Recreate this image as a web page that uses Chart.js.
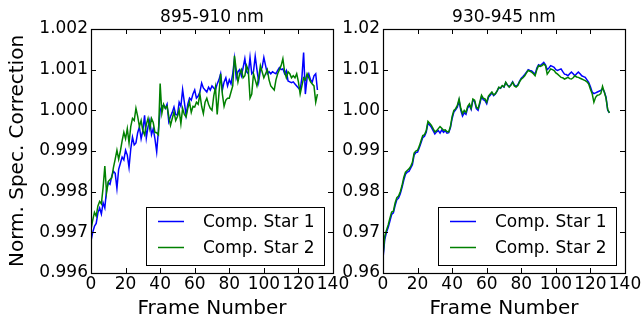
<!DOCTYPE html>
<html>
<head>
<meta charset="utf-8">
<script src="https://cdn.jsdelivr.net/npm/chart.js@4.4.0/dist/chart.umd.min.js"></script>
<style>
html,body{margin:0;padding:0;background:#fff;}
#wrap{position:relative;width:644px;height:324px;}
canvas{position:absolute;left:0;top:0;}
</style>
</head>
<body>
<div id="wrap">
<canvas id="c1" width="644" height="324"></canvas>
<canvas id="c2" width="644" height="324"></canvas>
</div>
<script>
// ---------------- DATA ----------------
const panelTitles = ['895-910 nm', '930-945 nm'];
const seriesNames = ['Comp. Star 1', 'Comp. Star 2'];
const xTickValues = [0, 20, 40, 60, 80, 100, 120, 140];
const leftYTickValues = [0.996, 0.997, 0.998, 0.999, 1.000, 1.001, 1.002];
const leftYTickLabels = ['0.996', '0.997', '0.998', '0.999', '1.000', '1.001', '1.002'];
const rightYTickValues = [0.96, 0.97, 0.98, 0.99, 1.00, 1.01, 1.02];
const rightYTickLabels = ['0.96', '0.97', '0.98', '0.99', '1.00', '1.01', '1.02'];

// frame index for each sample (0..131)
const frames = Array.from({length: 132}, (_, i) => i);

// 895-910 nm
const left1 = [
0.99679,0.99700,0.99715,0.99722,0.99748,0.99760,0.99745,0.99773,0.99760,0.99805,
0.99822,0.99818,0.99838,0.99850,0.99845,0.99808,0.99855,0.99870,0.99885,0.99878,
0.99902,0.99890,0.99860,0.99905,0.99934,0.99915,0.99920,0.99945,0.99959,0.99930,
0.99950,0.99988,0.99932,0.99960,0.99976,0.99940,0.99955,0.99930,0.99898,0.99950,
1.00000,1.00010,1.00012,1.00005,1.00015,0.99972,0.99985,0.99995,1.00008,0.99990,
0.99988,1.00020,1.00010,1.00051,1.00020,0.99988,1.00015,1.00030,1.00025,1.00040,
1.00050,1.00030,1.00035,1.00045,1.00067,1.00055,1.00050,1.00045,1.00057,1.00050,
1.00060,1.00055,1.00050,1.00065,1.00075,1.00090,1.00050,1.00070,1.00080,1.00060,
1.00075,1.00065,1.00090,1.00127,1.00080,1.00095,1.00100,1.00085,1.00105,1.00127,
1.00095,1.00090,1.00130,1.00090,1.00095,1.00133,1.00100,1.00070,1.00100,1.00105,
1.00130,1.00110,1.00090,1.00095,1.00090,1.00095,1.00092,1.00090,1.00098,1.00105,
1.00100,1.00102,1.00090,1.00098,1.00072,1.00070,1.00068,1.00070,1.00065,1.00060,
1.00055,1.00050,1.00080,1.00142,1.00040,1.00080,1.00090,1.00075,1.00070,1.00085,
1.00090,1.00050];
const left2 = [
0.99707,0.99730,0.99749,0.99740,0.99765,0.99776,0.99770,0.99810,0.99863,0.99797,
0.99825,0.99830,0.99834,0.99860,0.99880,0.99902,0.99880,0.99900,0.99925,0.99946,
0.99930,0.99955,0.99920,0.99960,0.99980,0.99975,1.00005,0.99985,0.99960,0.99975,
0.99950,0.99940,0.99965,0.99980,0.99955,0.99980,0.99970,0.99946,0.99945,0.99940,
1.00066,0.99993,1.00015,1.00005,1.00010,0.99985,0.99963,0.99980,0.99996,0.99975,
0.99985,1.00000,0.99967,1.00005,0.99990,0.99984,1.00005,1.00020,0.99995,1.00010,
1.00008,1.00020,1.00015,1.00040,1.00010,0.99992,1.00020,1.00030,1.00015,1.00005,
1.00000,1.00035,1.00057,0.99990,1.00040,1.00090,1.00040,1.00010,1.00025,1.00030,
1.00030,1.00045,1.00060,1.00134,1.00100,1.00070,1.00090,1.00100,1.00080,1.00085,
1.00110,1.00098,1.00030,1.00040,1.00090,1.00075,1.00060,1.00080,1.00110,1.00095,
1.00080,1.00090,1.00100,1.00075,1.00060,1.00055,1.00050,1.00075,1.00090,1.00100,
1.00110,1.00127,1.00095,1.00080,1.00095,1.00090,1.00080,1.00085,1.00080,1.00090,
1.00070,1.00040,1.00060,1.00080,1.00075,1.00090,1.00080,1.00070,1.00065,1.00060,
1.00020,1.00040];

// 930-945 nm
const right1 = [
0.9635,0.9682,0.9700,0.9712,0.9728,0.9744,0.9748,0.9766,0.9780,0.9784,
0.9795,0.9810,0.9828,0.9843,0.9848,0.9850,0.9858,0.9866,0.9890,0.9896,
0.9897,0.9908,0.9920,0.9933,0.9936,0.9946,0.9968,0.9964,0.9958,0.9950,
0.9942,0.9947,0.9950,0.9944,0.9952,0.9946,0.9950,0.9944,0.9945,0.9957,
0.9980,0.9996,1.0001,1.0008,1.0024,1.0000,0.9986,0.9994,0.9990,1.0006,
1.0012,1.0002,1.0025,1.0022,1.0004,1.0000,1.0016,1.0034,1.0026,1.0024,
1.0016,1.0032,1.0037,1.0043,1.0036,1.0040,1.0047,1.0056,1.0054,1.0060,
1.0057,1.0068,1.0062,1.0058,1.0063,1.0070,1.0062,1.0059,1.0063,1.0072,
1.0079,1.0083,1.0088,1.0094,1.0100,1.0098,1.0097,1.0093,1.0089,1.0104,
1.0112,1.0110,1.0114,1.0118,1.0112,1.0100,1.0104,1.0110,1.0108,1.0106,
1.0100,1.0098,1.0100,1.0102,1.0095,1.0089,1.0088,1.0085,1.0090,1.0094,
1.0090,1.0085,1.0090,1.0094,1.0090,1.0085,1.0083,1.0081,1.0075,1.0069,
1.0058,1.0045,1.0041,1.0043,1.0045,1.0047,1.0049,1.0053,1.0046,1.0033,
1.0000,0.9994];
const right2 = [
0.9642,0.9690,0.9705,0.9718,0.9735,0.9750,0.9752,0.9772,0.9785,0.9789,
0.9800,0.9815,0.9835,0.9848,0.9852,0.9856,0.9862,0.9872,0.9895,0.9900,
0.9902,0.9912,0.9925,0.9938,0.9940,0.9950,0.9973,0.9968,0.9963,0.9955,
0.9947,0.9950,0.9955,0.9960,0.9956,0.9951,0.9952,0.9948,0.9947,0.9960,
0.9985,1.0000,1.0004,1.0012,1.0028,1.0005,0.9992,1.0000,0.9995,1.0010,
1.0016,1.0005,1.0028,1.0025,1.0008,1.0004,1.0020,1.0037,1.0030,1.0028,
1.0020,1.0035,1.0040,1.0045,1.0038,1.0041,1.0048,1.0057,1.0055,1.0061,
1.0058,1.0069,1.0062,1.0057,1.0062,1.0069,1.0060,1.0057,1.0061,1.0070,
1.0077,1.0080,1.0085,1.0092,1.0098,1.0096,1.0094,1.0090,1.0085,1.0100,
1.0110,1.0108,1.0110,1.0114,1.0110,1.0089,1.0095,1.0102,1.0100,1.0098,
1.0092,1.0089,1.0085,1.0081,1.0080,1.0077,1.0079,1.0081,1.0078,1.0077,
1.0080,1.0085,1.0082,1.0081,1.0079,1.0077,1.0075,1.0073,1.0070,1.0065,
1.0052,1.0041,1.0020,1.0032,1.0037,1.0038,1.0041,1.0059,1.0045,1.0030,
1.0002,0.9994];

// ---------------- STYLE ----------------
const FONT = "'DejaVu Sans', 'Liberation Sans', sans-serif";
const BLUE = '#0000ff';
const GREEN = '#008000';

const frameTicksPlugin = {
  id: 'frameTicks',
  afterDraw(chart, args, opts) {
    const {ctx, chartArea: a, scales} = chart;
    const xs = scales.x, ys = scales.y;
    const L = 5;
    ctx.save();
    ctx.strokeStyle = '#000';
    ctx.lineWidth = 1;
    ctx.beginPath();
    for (const v of xTickValues) {
      const px = Math.round(xs.getPixelForValue(v)) + 0.5;
      ctx.moveTo(px, a.bottom); ctx.lineTo(px, a.bottom - L);
      ctx.moveTo(px, a.top); ctx.lineTo(px, a.top + L);
    }
    for (const v of opts.yTicks) {
      const py = Math.round(ys.getPixelForValue(v)) + 0.5;
      ctx.moveTo(a.left, py); ctx.lineTo(a.left + L, py);
      ctx.moveTo(a.right, py); ctx.lineTo(a.right - L, py);
    }
    ctx.stroke();
    ctx.lineWidth = 1.2;
    ctx.strokeRect(Math.round(a.left) + 0.5, Math.round(a.top) + 0.5,
                   Math.round(a.right - a.left), Math.round(a.bottom - a.top));
    // legend box
    const bx = a.left + 55, by = a.bottom - 66, bw = (a.right - 9) - bx, bh = 58;
    ctx.fillStyle = '#fff';
    ctx.fillRect(bx, by, bw, bh);
    ctx.lineWidth = 1;
    ctx.strokeRect(Math.round(bx) + 0.5, Math.round(by) + 0.5, Math.round(bw), Math.round(bh));
    const rows = [a.bottom - 51.5, a.bottom - 25.5];
    const cols = [BLUE, GREEN];
    ctx.font = '17px ' + FONT;
    ctx.textBaseline = 'middle';
    ctx.textAlign = 'left';
    for (let i = 0; i < 2; i++) {
      ctx.strokeStyle = cols[i];
      ctx.lineWidth = 1.5;
      ctx.beginPath();
      ctx.moveTo(bx + 12, rows[i]); ctx.lineTo(bx + 38, rows[i]);
      ctx.stroke();
      ctx.fillStyle = '#000';
      ctx.fillText(seriesNames[i], bx + 57, rows[i] + 1);
    }
    ctx.restore();
  }
};

function makeChart(id, title, s1, s2, yTicks, yLabels, padLeft, padRight, yWidth, showYTitle) {
  return new Chart(document.getElementById(id), {
    type: 'line',
    data: {
      labels: frames,
      datasets: [
        {label: seriesNames[0], data: s1, borderColor: BLUE, borderWidth: 1.5, pointRadius: 0, tension: 0, fill: false, order: 1},
        {label: seriesNames[1], data: s2, borderColor: GREEN, borderWidth: 1.5, pointRadius: 0, tension: 0, fill: false, order: 0}
      ]
    },
    options: {
      responsive: false,
      animation: false,
      events: [],
      layout: {padding: {left: padLeft, right: padRight, top: 0, bottom: 0}},
      plugins: {
        legend: {display: false},
        tooltip: {enabled: false},
        title: {
          display: true, text: title, fullSize: false, color: '#000',
          font: {family: FONT, size: 17, weight: 'normal', lineHeight: 1.2},
          padding: {top: 7, bottom: 1.6}
        },
        frameTicks: {yTicks: yTicks}
      },
      scales: {
        x: {
          type: 'linear', min: 0, max: 140,
          grid: {display: false, drawTicks: false},
          border: {display: false},
          afterBuildTicks: s => { s.ticks = xTickValues.map(v => ({value: v})); },
          afterFit: s => { s.height = 51; },
          ticks: {color: '#000', padding: 1, maxRotation: 0, autoSkip: false,
                  font: {family: FONT, size: 17}, callback: v => String(v)},
          title: {display: true, text: 'Frame Number', color: '#000',
                  font: {family: FONT, size: 20, lineHeight: 1.5}, padding: 0}
        },
        y: {
          type: 'linear', min: yTicks[0], max: yTicks[yTicks.length - 1],
          grid: {display: false, drawTicks: false},
          border: {display: false},
          afterBuildTicks: s => { s.ticks = yTicks.map(v => ({value: v})); },
          afterFit: s => { s.width = yWidth; },
          ticks: {color: '#000', padding: 3, autoSkip: false,
                  font: {family: FONT, size: 17},
                  callback: (v, i) => yLabels[i]},
          title: {display: showYTitle, text: 'Norm. Spec. Correction', color: '#000',
                  font: {family: FONT, size: 20, lineHeight: 1.2}, padding: 0}
        }
      }
    },
    plugins: [frameTicksPlugin]
  });
}

makeChart('c1', panelTitles[0], left1, left2, leftYTickValues, leftYTickLabels, 6, 311, 85, true);
makeChart('c2', panelTitles[1], right1, right2, rightYTickValues, rightYTickLabels, 340, 19, 43, false);
</script>
</body>
</html>
